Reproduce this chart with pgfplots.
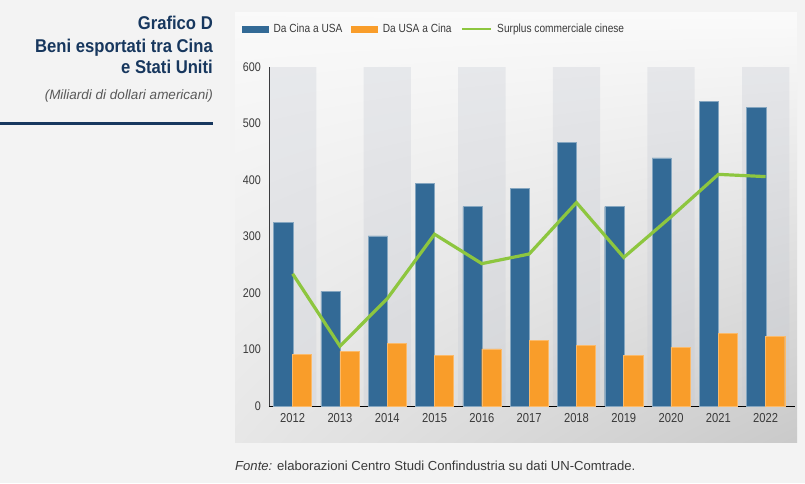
\documentclass[border=0pt]{standalone}
\usepackage{pgfplots}
\pgfplotsset{compat=1.18}
\usepackage{pgfplotstable}
\usetikzlibrary{shadings}
\usepackage{fontspec}
\setmainfont{Liberation Sans}
\newfontfamily\condfont[FakeStretch=0.86]{Liberation Sans}
\newfontfamily\titlefont[FakeStretch=0.9]{Liberation Sans}
\definecolor{navy}{HTML}{17375E}
\definecolor{cblue}{HTML}{336A96}
\definecolor{corange}{HTML}{F99D2A}
\definecolor{cgreen}{HTML}{8DC63F}
\definecolor{bgc}{HTML}{F3F3F3}
\definecolor{txt}{HTML}{3A3A3A}
\definecolor{bandc}{HTML}{C4C8D2}

\pgfplotstableread{
x year cina usa surplus
0 2012 325 91 234
1 2013 203 97 106
2 2014 301 111 190
3 2015 394 90 304
4 2016 353 101 252
5 2017 385 116 269
6 2018 467 107 360
7 2019 353 90 263
8 2020 439 104 335
9 2021 539 129 410
10 2022 529 123 406
}\datatab

\begin{document}
\begin{tikzpicture}[x=1pt,y=1pt]
\fill[bgc] (0,0) rectangle (805,483);
\useasboundingbox (0,0) rectangle (805,483);
\shade[upper left=white!55!bgc, upper right=white!60!bgc, lower left=black!5!bgc, lower right=black!17!bgc] (235,41) rectangle (797,470);

% titles
\node[anchor=base east, inner sep=0pt, text=navy] at (213,453) {\titlefont\bfseries\fontsize{18.5}{20}\selectfont Grafico D};
\node[anchor=base east, inner sep=0pt, text=navy] at (213,430.5) {\titlefont\bfseries\fontsize{18.5}{20}\selectfont Beni esportati tra Cina};
\node[anchor=base east, inner sep=0pt, text=navy] at (213,409) {\titlefont\bfseries\fontsize{18.5}{20}\selectfont e Stati Uniti};
\node[anchor=base east, inner sep=0pt, text=black!65] at (213,384) {\itshape\fontsize{13.5}{15}\selectfont (Miliardi di dollari americani)};
\fill[navy] (0,358.4) rectangle (213,361.1);
\node[anchor=base west, inner sep=0pt, text=txt] at (235,13) {\fontsize{13.1}{15}\selectfont\textit{Fonte:} elaborazioni Centro Studi Confindustria su dati UN-Comtrade.};

\begin{axis}[
  at={(269pt,77pt)}, anchor=south west,
  scale only axis, width=526pt, height=339pt,
  xmin=-0.5, xmax=10.62, ymin=0, ymax=600,
  axis x line*=bottom, axis y line*=left,
  axis line style={-, black, line width=0.9pt},
  major tick length=0pt,
  xtick={0,...,10},
  xticklabels={2012,2013,2014,2015,2016,2017,2018,2019,2020,2021,2022},
  ytick={0,100,...,600},
  /pgf/number format/assume math mode=true,
  xticklabel style={font=\condfont\fontsize{13}{14}\selectfont, text=txt, anchor=north, inner sep=0pt, yshift=-7.5pt},
  yticklabel style={font=\condfont\fontsize{12.5}{14}\selectfont, text=txt, anchor=east, inner sep=0pt, xshift=-8pt},
  legend style={at={(axis description cs:-0.0513,1.112)}, anchor=west, draw=none, fill=none,
     font=\condfont\fontsize{11.8}{13}\selectfont, text=txt, inner sep=0pt,
     nodes={inner sep=2pt},
     /tikz/every odd column/.append style={column sep=3pt},
     /tikz/every even column/.append style={column sep=7pt}},
  legend columns=-1,
  clip=false,
]
\addplot[forget plot, ybar, bar width=1, bar shift=0pt, fill=bandc, fill opacity=0.3, draw=none]
  coordinates {(0,600)(2,600)(4,600)(6,600)(8,600)(10,600)};
\addplot[ybar, bar width=0.405, bar shift=-0.2, fill=cblue, draw=cblue!60!white, line width=0.4pt,
  legend image code/.code={\fill[cblue] (0pt,-2.8pt) rectangle (26pt,2.8pt);}]
  table[x=x, y=cina] {\datatab};
\addplot[ybar, bar width=0.405, bar shift=0.2, fill=corange, draw=corange!70!white, line width=0.4pt,
  legend image code/.code={\fill[corange] (0pt,-2.8pt) rectangle (26pt,2.8pt);}]
  table[x=x, y=usa] {\datatab};
\addplot[cgreen, line width=3.2pt, mark=none,
  legend image code/.code={\draw[cgreen, line width=2.6pt] (0pt,0pt) -- (29pt,0pt);}]
  table[x=x, y=surplus] {\datatab};
\legend{Da Cina a USA, Da USA a Cina, Surplus commerciale cinese}
\end{axis}
\end{tikzpicture}
\end{document}
